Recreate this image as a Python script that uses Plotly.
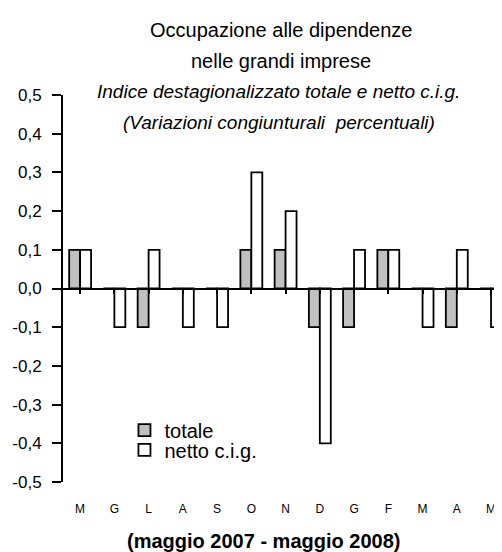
import plotly.graph_objects as go

months = ["M", "G", "L", "A", "S", "O", "N", "D", "G", "F", "M", "A", "M"]
totale = [0.1, 0.0, -0.1, 0.0, 0.0, 0.1, 0.1, -0.1, -0.1, 0.1, 0.0, -0.1, 0.0]
netto_cig = [0.1, -0.1, 0.1, -0.1, -0.1, 0.3, 0.2, -0.4, 0.1, 0.1, -0.1, 0.1, -0.1]
y_ticks = [-0.5, -0.4, -0.3, -0.2, -0.1, 0.0, 0.1, 0.2, 0.3, 0.4, 0.5]
y_ticktext = [f"{v:.1f}".replace(".", ",") for v in y_ticks]

x_pos = list(range(len(months)))

fig = go.Figure()
fig.add_trace(
    go.Bar(
        x=x_pos, y=totale, name="totale", legend="legend",
        marker=dict(color="#c0c0c0", line=dict(color="black", width=1.8)),
    )
)
fig.add_trace(
    go.Bar(
        x=x_pos, y=netto_cig, name="netto c.i.g.", legend="legend2",
        marker=dict(color="white", line=dict(color="black", width=1.8)),
    )
)
# invisible trace so the zero-line axis gets drawn
fig.add_trace(
    go.Scatter(x=[0], y=[0], xaxis="x2", mode="markers",
               marker=dict(opacity=0), showlegend=False, hoverinfo="skip")
)

legend_style = dict(
    x=0.14, xanchor="left", yanchor="middle",
    font=dict(size=20), bgcolor="rgba(0,0,0,0)", itemwidth=30,
)

# page body has an 8px margin, so the figure is shrunk by that much
fig.update_layout(
    width=494,
    height=544,
    margin=dict(l=55, r=0, t=87, b=70),
    paper_bgcolor="white",
    plot_bgcolor="white",
    font=dict(family="Liberation Sans, Arial", color="black", size=16),
    barmode="group",
    bargap=0.36,
    bargroupgap=0,
    showlegend=True,
    legend=dict(y=0.134, **legend_style),
    legend2=dict(y=0.083, **legend_style),
    xaxis=dict(
        range=[-0.5, 12.32],
        tickvals=x_pos,
        ticktext=months,
        showline=False,
        showgrid=False,
        zeroline=False,
        ticks="",
        ticklabelstandoff=18,
        tickfont=dict(size=12),
    ),
    xaxis2=dict(
        overlaying="x",
        matches="x",
        anchor="free",
        position=0.5,
        showline=True,
        linecolor="black",
        linewidth=1.5,
        ticks="outside",
        tickson="boundaries",
        ticklen=5,
        tickwidth=2,
        tickcolor="black",
        tickvals=x_pos,
        showticklabels=False,
        showgrid=False,
        zeroline=False,
    ),
    yaxis=dict(
        range=[-0.5, 0.5],
        tickvals=y_ticks,
        ticktext=y_ticktext,
        showline=True,
        linecolor="black",
        linewidth=2,
        ticks="outside",
        ticklen=9,
        tickwidth=2,
        tickcolor="black",
        ticklabelstandoff=7,
        showgrid=False,
        zeroline=False,
        tickfont=dict(size=17),
    ),
)

annotations = [
    ("Occupazione alle dipendenze", 0.497, 1.168, dict(size=20)),
    ("nelle grandi imprese", 0.497, 1.088, dict(size=20)),
    ("<i>Indice destagionalizzato totale e netto c.i.g.</i>", 0.492, 1.008,
     dict(size=19)),
    ("<i>(Variazioni congiunturali  percentuali)</i>", 0.492, 0.928,
     dict(size=19)),
    ("<b>(maggio 2007 - maggio 2008)</b>", 0.456, -0.152, dict(size=20)),
]
for text, x, y, f in annotations:
    fig.add_annotation(
        text=text, x=x, y=y, xref="paper", yref="paper",
        xanchor="center", yanchor="middle", showarrow=False, font=f,
    )

fig.write_html("out.html")
